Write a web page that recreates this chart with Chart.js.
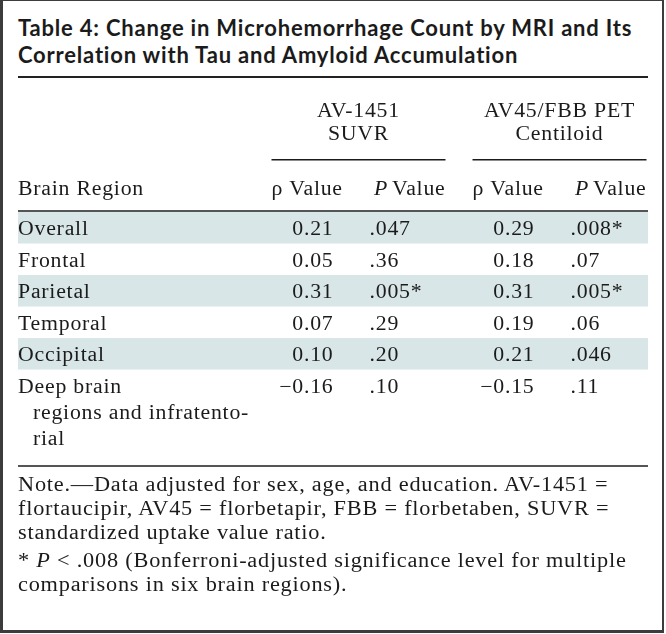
<!DOCTYPE html>
<html>
<head>
<meta charset="utf-8">
<script src="https://cdn.jsdelivr.net/npm/chart.js@4.4.1/dist/chart.umd.min.js"></script>
<style>
  body { margin: 0; background: #fff; }
  #frame { position: absolute; left: 0; top: 0; width: 659px; height: 629px;
           border-style: solid; border-color: #3c3c3c; border-width: 1px 2px 3px 3px; }
  #title { position: absolute; left: 18px; top: 15px; font: bold 22px Lato, sans-serif;
           letter-spacing: 0.8px; line-height: 26.5px; color: #1b1b1b; white-space: nowrap; }
  #rule { position: absolute; left: 18px; top: 76px; width: 630px; height: 1.5px; background: #222; }
  #notes { position: absolute; left: 18px; top: 472px; font: 20px "Liberation Serif", serif;
           letter-spacing: 0.7px; line-height: 24px; color: #1b1b1b; white-space: nowrap;
           transform: scaleX(1.115); transform-origin: 0 0; }
  #notes p { margin: 0 0 4px 0; }
  canvas { position: absolute; left: 0; top: 0; }
</style>
</head>
<body>
<div id="frame"></div>
<div id="title">Table 4: Change in Microhemorrhage Count by MRI and Its<br>Correlation with Tau and Amyloid Accumulation</div>
<div id="rule"></div>
<canvas id="table-chart" width="666" height="634"></canvas>
<div id="notes">
  <p>Note.—Data adjusted for sex, age, and education. AV-1451 =<br>flortaucipir, AV45 = florbetapir, FBB = florbetaben, SUVR =<br>standardized uptake value ratio.</p>
  <p>* <i>P</i> &lt; .008 (Bonferroni-adjusted significance level for multiple<br>comparisons in six brain regions).</p>
</div>
<script>
// tracer groups (one x category each)
var groups = [['AV-1451', 'SUVR'], ['AV45/FBB PET', 'Centiloid']];

// brain regions, already split the way the table wraps them
var regions = [
    ['Overall'],
    ['Frontal'],
    ['Parietal'],
    ['Temporal'],
    ['Occipital'],
    ['Deep brain', 'regions and infratento-', 'rial']
];

var rhoTau = [0.21, 0.05, 0.31, 0.07, 0.10, -0.16];
var pTau   = ['.047', '.36', '.005*', '.29', '.20', '.10'];
var rhoAmy = [0.29, 0.18, 0.31, 0.19, 0.21, -0.15];
var pAmy   = ['.008*', '.07', '.005*', '.06', '.046', '.11'];

var rhoCols = [rhoTau, rhoAmy];
var pCols = [pTau, pAmy];

var wrapStep = 0.825;   // extra height of a wrapped line, in row units
var rowStart = [];
var total = 0;
regions.forEach(function (r) {
    rowStart.push(total);
    total += 1 + (r.length - 1) * wrapStep;
});

var ink = '#1b1b1b';
var stripe = '#d8e6e7';
var serif = '"Liberation Serif", serif';
var SX = 1.09;   // garamond is wider than times

function fmtRho(v) {
    var s = Math.abs(v).toFixed(2);
    return v < 0 ? '\u2212' + s : s;
}

function txt(ctx, s, x, y, align) {
    ctx.save();
    ctx.translate(x, y);
    ctx.scale(SX, 1);
    ctx.textAlign = align || 'left';
    ctx.fillText(s, 0, 0);
    ctx.restore();
}

// "P Value" with an italic P, right aligned at x
function pHeader(ctx, xRight, y) {
    ctx.font = '20px ' + serif;
    var wV = ctx.measureText('Value').width * SX;
    ctx.font = 'italic 20px ' + serif;
    var wP = ctx.measureText('P').width * SX + 4;
    txt(ctx, 'P', xRight - wV - wP, y);
    ctx.font = '20px ' + serif;
    txt(ctx, 'Value', xRight - wV, y);
}

var tablePlugin = {
    id: 'tableCells',
    afterDraw: function (chart) {
        var ctx = chart.ctx;
        var xs = chart.scales.x, ys = chart.scales.y;
        var area = chart.chartArea;
        var left = 18, right = 648;
        ctx.save();
        ctx.letterSpacing = '0.7px';
        ctx.textBaseline = 'alphabetic';

        // row stripes
        ctx.fillStyle = stripe;
        regions.forEach(function (r, i) {
            if (i % 2) return;
            var y0 = ys.getPixelForValue(rowStart[i]);
            var y1 = ys.getPixelForValue(rowStart[i] + 1 + (r.length - 1) * wrapStep);
            ctx.fillRect(left, y0, right - left, y1 - y0);
        });

        // header rules
        ctx.fillStyle = '#555';
        ctx.fillRect(left, area.top - 2, right - left, 2);
        ctx.fillRect(left, area.bottom - 1, right - left, 2);

        ctx.fillStyle = ink;
        ctx.font = '20px ' + serif;
        txt(ctx, 'Brain Region', left, area.top - 17);

        groups.forEach(function (g, gi) {
            var c = xs.getPixelForValue(gi);
            ctx.font = '20px ' + serif;
            txt(ctx, g[0], c, area.top - 95, 'center');
            txt(ctx, g[1], c, area.top - 72, 'center');
            ctx.fillRect(c - 87, area.top - 53, 174, 1.5);
            txt(ctx, '\u03c1 Value', c - 87, area.top - 17);
            pHeader(ctx, c + 87, area.top - 17);

            ctx.font = '20px ' + serif;
            regions.forEach(function (r, i) {
                var y = ys.getPixelForValue(rowStart[i]) + 23;
                txt(ctx, fmtRho(rhoCols[gi][i]), c - 25, y, 'right');
                txt(ctx, pCols[gi][i], c + 11, y, 'left');
            });
        });

        ctx.font = '20px ' + serif;
        regions.forEach(function (r, i) {
            r.forEach(function (line, li) {
                var yy = ys.getPixelForValue(rowStart[i] + li * wrapStep) + 23;
                txt(ctx, line, li ? left + 15 : left, yy);
            });
        });
        ctx.restore();
    }
};

var ctx = document.getElementById('table-chart').getContext('2d');
var tableChart = new Chart(ctx, {
    type: 'bar',
    data: {
        labels: groups.map(function (g) { return g.join(' '); }),
        datasets: []
    },
    options: {
        responsive: false,
        animation: false,
        events: [],
        layout: { padding: { left: 258, right: 6, top: 212, bottom: 168 } },
        plugins: { legend: { display: false }, tooltip: { enabled: false } },
        scales: {
            x: { type: 'category', display: false, offset: true },
            y: { type: 'linear', display: false, reverse: true, min: 0, max: total + 0.41 }
        }
    },
    plugins: [tablePlugin]
});
</script>
</body>
</html>
